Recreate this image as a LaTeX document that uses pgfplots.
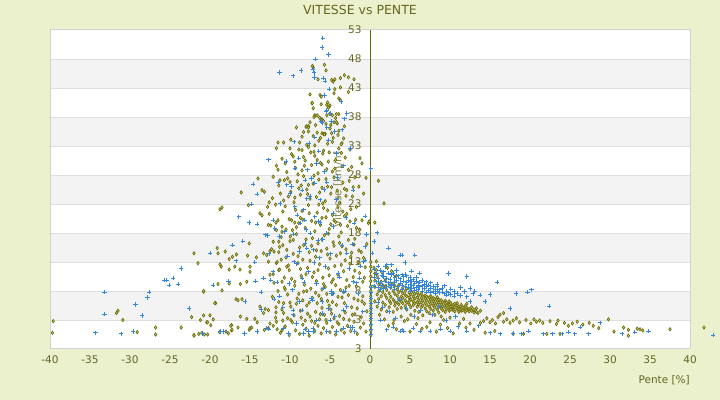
\documentclass[border=0pt]{standalone}
\usepackage{fontspec}
\setmainfont{DejaVu Sans}
\usepackage{pgfplots}
\pgfplotsset{compat=1.18}
\definecolor{bgc}{RGB}{235,240,205}
\definecolor{txt}{RGB}{102,102,34}
\definecolor{band}{RGB}{243,243,243}
\definecolor{gridc}{RGB}{222,222,222}
\definecolor{framec}{RGB}{210,210,210}
\definecolor{olv}{RGB}{102,102,0}
\definecolor{olvfill}{RGB}{205,205,120}
\definecolor{blu}{RGB}{50,135,220}
\pagecolor{bgc}
\begin{document}
\begin{tikzpicture}
\path (0,0) rectangle (720bp,400bp);
\node[txt, font=\fontsize{12.5bp}{14bp}\selectfont] at (360bp,390bp) {VITESSE vs PENTE};
\node[txt, anchor=east, inner sep=0pt, font=\fontsize{10.5bp}{12bp}\selectfont] at (690bp,20bp) {Pente [\%]};
\begin{axis}[
 set layers=standard,
 at={(50bp,51bp)}, anchor=south west,
 width=640bp, height=319bp, scale only axis,
 xmin=-40, xmax=40, ymin=-2, ymax=53,
 clip=false,
 axis line style={draw=none},
 major tick length=0pt,
 xtick={-40,-35,...,40},
 ytick={-2,3,...,53},
 yticklabels={3,3,8,13,18,23,28,33,38,43,48,53},
 ticklabel style={font=\fontsize{10.5bp}{12bp}\selectfont, text=txt},
 /pgf/number format/assume math mode=true,
 xticklabel style={yshift=-3bp},
 yticklabel style={xshift=315bp},
]
\begin{pgfonlayer}{axis background}
\fill[white] (axis cs:-40,-2) rectangle (axis cs:40,53);
\fill[band] (axis cs:-40,43) rectangle (axis cs:40,48);
\fill[band] (axis cs:-40,33) rectangle (axis cs:40,38);
\fill[band] (axis cs:-40,23) rectangle (axis cs:40,28);
\fill[band] (axis cs:-40,13) rectangle (axis cs:40,18);
\fill[band] (axis cs:-40,3) rectangle (axis cs:40,8);
\draw[gridc] (axis cs:-40,3) -- (axis cs:40,3);
\draw[gridc] (axis cs:-40,8) -- (axis cs:40,8);
\draw[gridc] (axis cs:-40,13) -- (axis cs:40,13);
\draw[gridc] (axis cs:-40,18) -- (axis cs:40,18);
\draw[gridc] (axis cs:-40,23) -- (axis cs:40,23);
\draw[gridc] (axis cs:-40,28) -- (axis cs:40,28);
\draw[gridc] (axis cs:-40,33) -- (axis cs:40,33);
\draw[gridc] (axis cs:-40,38) -- (axis cs:40,38);
\draw[gridc] (axis cs:-40,43) -- (axis cs:40,43);
\draw[gridc] (axis cs:-40,48) -- (axis cs:40,48);
\draw[framec, line width=1bp] (axis cs:-40,-2) rectangle (axis cs:40,53);
\end{pgfonlayer}
\begin{pgfonlayer}{pre main}
\draw[olv, line width=1bp] (axis cs:0,-2) -- (axis cs:0,53);
\node[rotate=90, text=txt!80, font=\fontsize{10.5bp}{12bp}\selectfont] at (axis cs:-4,25.5) {Vitesse [km/h]};
\end{pgfonlayer}
% olive series
\addplot[only marks, mark=diamond*, mark size=1.7bp, mark options={draw=olv, fill=olvfill, line width=0.6bp}] coordinates {
(-39.6,2.8)(-39.7,0.8)(-31.7,4.2)(-31.5,4.6)(-30.9,3.0)(-29.1,0.9)(-26.8,1.7)(-26.8,0.5)(-23.6,1.7)(-22.0,0.4)(-21.4,0.6)(-21.0,0.8)(-20.8,7.9)(-22.3,3.5)(-20.8,3.8)(-20.0,3.8)(-21.2,3.0)(-20.4,2.6)(-20.3,0.5)(-19.9,2.1)(-19.6,3.1)(-19.3,5.9)(-19.0,9.2)(-18.5,8.1)(-18.8,0.9)(-17.6,9.3)(-17.3,2.1)(-17.3,1.2)(-17.7,0.7)
(-19.1,15.4)(-19.0,14.5)(-22.0,14.5)(-21.5,12.8)(-18.1,14.8)(-17.2,13.9)(-16.7,14.3)(-17.6,13.5)(-18.75,12.6)(-18.6,12.2)(-17.6,11.7)(-16.9,12.2)(-16.25,11.7)(-15.1,16.2)(-15.3,14.1)(-14.2,13.8)(-15.0,12.2)(-15.0,11.3)(-15.4,9.6)(-16.2,9.2)(-20.8,8.0)(-19.4,5.9)(-20.3,2.6)(-22.0,0.3)(-20.7,0.5)(-18.0,1.0)(-17.4,2.0)(-17.25,1.3)(-16.5,1.7)(-15.1,1.3)(-15.0,1.6)(-14.8,1.7)(-14.4,3.2)(-16.75,6.6)(-16.5,6.4)(-16.0,6.6)(-16.2,3.6)(-15.4,3.2)(-13.75,5.3)(-13.1,4.9)(-12.7,4.7)(-13.3,4.2)(-14.1,2.6)(-13.2,1.3)(-12.7,1.6)(-12.5,2.4)(-12.1,2.0)(-11.7,2.7)
(-11.8,3.4)(-11.75,4.3)(-11.75,5.2)(-10.8,5.9)(-11.0,4.8)(-12.7,19.4)(-12.4,19.3)(-11.5,20.2)(-11.75,19.8)(-11.7,18.5)(-11.0,18.2)(-12.1,16.5)(-11.4,16.5)(-12.5,14.9)(-12.0,14.8)(-11.4,14.7)(-11.3,15.6)(-13.3,14.5)(-12.9,14.2)(-12.7,13.05)(-11.7,12.8)(-11.4,11.6)(-12.5,10.8)(-12.1,10.9)(-11.0,9.6)(-10.6,8.3)(-10.4,12.2)(-10.1,11.6)(-9.8,20.2)(-9.4,19.8)(-9.96,17.4)(-9.6,16.8)
(-18.75,22.1)(-18.5,22.4)(-16.1,25.0)(-14.0,27.4)(-15.2,22.8)(-13.5,25.4)(-13.2,25.1)(-12.6,23.3)(-13.75,21.4)(-13.5,21.05)(-11.7,29.6)(-11.5,28.9)(-11.7,32.6)(-11.5,33.6)(-10.8,33.6)(-12.8,22.5)(-12.1,27.7)(-11.25,27.1)(-10.7,27.1)(-10.0,26.8)(-10.2,24.3)(-9.6,31.2)(-9.4,30.3)(-8.5,32.3)(-8.0,36.3)(-7.7,36.4)(-7.25,40.4)(-7.1,39.5)(-6.9,38.2)(-6.6,38.3)(-6.0,35.2)(-5.8,35.1)(-5.6,35.1)(-5.4,40.1)(-5.1,39.8)(-5.0,38.6)(-4.7,38.3)(-4.2,38.5)(-4.1,36.9)(-3.3,34.3)(-3.5,33.5)(-2.5,32.4)(-1.25,30.9)(-1.0,30.0)(-2.3,29.4)(-2.9,25.4)(-2.1,25.9)(-2.2,24.3)(-1.7,22.5)(-1.0,20.2)(1.05,27.0)(-0.2,19.7)(1.75,23.1)(-0.5,27.5)(-0.8,24.8)(-0.1,20.0)(0.6,19.8)
(-7.2,46.8)(-7.1,46.5)(-5.7,47.0)(-5.5,46.05)(-6.5,44.5)(-4.8,44.4)(-4.6,44.1)(-4.4,44.5)(-3.7,44.7)(-3.2,45.2)(-2.7,44.85)(-2.0,44.5)(-3.7,43.1)(-2.7,42.3)(-4.4,42.8)(-7.5,41.9)(-6.25,41.8)(-6.1,41.5)(-4.5,42.1)(-3.9,41.2)(-3.7,40.9)(-7.2,40.4)(-6.1,40.2)(-5.3,40.5)(-5.0,40.0)(-5.2,39.6)(-6.9,38.3)(-7.0,38.0)(-6.3,37.9)(-6.0,37.6)(-5.8,37.3)(-5.4,38.3)(-5.0,38.5)(-4.5,37.1)(-4.2,37.1)(-3.9,38.5)(-7.9,36.4)(-7.7,36.2)(-4.9,36.6)
(-11.2,0.8)(-10.6,1.9)(-10.1,0.4)(-9.7,2.6)(-9.3,1.2)(-8.8,0.6)(-8.4,2.2)(-8.0,1.5)(-7.6,0.3)(-7.3,2.8)(-6.9,1.1)(-6.5,2.0)(-6.1,0.7)(-5.8,1.6)(-5.4,2.5)(-5.0,0.9)(-4.7,1.8)(-4.3,0.5)(-3.9,2.3)(-3.6,1.3)(-3.2,0.8)(-2.8,2.0)(-2.4,1.1)(-2.0,2.7)(-1.6,0.6)(-1.2,1.7)(-0.8,2.4)(-0.5,1.0)(-9.9,3.0)(-8.1,2.9)(-6.3,3.1)(-4.5,3.3)(-2.6,3.0)(-11.6,1.4)(-10.9,2.9)
(-11.4,6.1)(-10.8,4.2)(-10.3,7.4)(-9.9,5.3)(-9.5,3.8)(-9.1,6.7)(-8.7,4.6)(-8.3,7.9)(-7.9,5.5)(-7.5,3.6)(-7.2,6.8)(-6.8,4.4)(-6.4,7.2)(-6.0,5.1)(-5.7,3.9)(-5.3,6.3)(-4.9,4.8)(-4.6,7.6)(-4.2,5.6)(-3.8,3.7)(-3.5,6.9)(-3.1,4.3)(-2.7,7.3)(-2.3,5.2)(-1.9,4.0)(-1.5,6.4)(-1.1,3.5)(-0.7,5.8)(-0.4,4.5)(-12.2,7.0)(-10.0,6.0)(-8.9,7.5)(-6.6,5.9)(-5.1,5.5)(-3.3,7.8)(-2.0,6.7)(-0.9,7.1)
(-12.0,9.4)(-11.3,11.7)(-10.7,8.6)(-10.2,12.4)(-9.8,10.1)(-9.4,8.9)(-9.0,12.8)(-8.6,10.6)(-8.2,9.1)(-7.8,12.0)(-7.4,8.4)(-7.0,11.2)(-6.7,9.7)(-6.3,12.6)(-5.9,10.3)(-5.6,8.7)(-5.2,11.9)(-4.8,9.5)(-4.4,12.3)(-4.0,10.8)(-3.7,8.2)(-3.3,11.4)(-2.9,9.9)(-2.5,12.7)(-2.1,10.4)(-1.7,8.8)(-1.3,11.1)(-0.9,9.6)(-0.6,12.1)(-11.6,13.0)(-8.0,10.9)(-6.0,8.3)(-4.6,10.0)(-3.0,8.6)(-1.5,12.9)
(-12.3,15.2)(-11.1,17.3)(-10.5,13.8)(-10.0,16.6)(-9.6,14.4)(-9.2,17.8)(-8.8,15.5)(-8.4,13.4)(-8.0,16.9)(-7.6,14.7)(-7.2,17.1)(-6.8,13.9)(-6.5,16.2)(-6.1,14.9)(-5.7,17.6)(-5.4,15.3)(-5.0,13.6)(-4.6,16.4)(-4.2,14.1)(-3.9,17.4)(-3.5,15.7)(-3.1,13.3)(-2.7,16.8)(-2.3,14.6)(-1.9,17.0)(-1.4,15.0)(-0.8,13.7)(-10.9,15.9)(-7.3,15.8)(-5.2,17.9)(-3.7,14.5)(-2.0,16.0)
(-12.6,21.3)(-11.0,19.1)(-10.6,22.6)(-10.1,20.4)(-9.7,18.5)(-9.3,22.0)(-8.9,19.7)(-8.5,21.8)(-8.1,18.9)(-7.7,22.8)(-7.3,20.1)(-6.9,18.3)(-6.6,21.5)(-6.2,19.4)(-5.8,22.3)(-5.5,20.7)(-5.1,18.7)(-4.7,21.1)(-4.3,19.9)(-4.0,22.5)(-3.6,18.1)(-3.2,20.9)(-2.8,19.2)(-2.4,22.1)(-1.8,20.3)(-1.3,18.6)(-8.7,20.6)(-6.4,22.9)(-4.9,19.5)(-3.4,21.7)
(-12.2,24.0)(-11.4,26.2)(-10.8,23.6)(-10.3,27.4)(-9.9,25.1)(-9.5,23.3)(-9.1,26.9)(-8.7,24.6)(-8.3,27.8)(-7.9,25.5)(-7.5,23.9)(-7.1,26.5)(-6.7,24.2)(-6.4,27.2)(-6.0,25.8)(-5.6,23.5)(-5.3,26.0)(-4.9,24.8)(-4.5,27.6)(-4.1,25.3)(-3.8,23.2)(-3.4,26.7)(-3.0,24.4)(-2.6,27.0)(-7.7,26.3)(-5.9,23.1)(-8.9,25.7)
(-11.0,30.8)(-10.4,28.5)(-9.8,31.6)(-9.3,29.2)(-8.9,32.4)(-8.5,28.8)(-8.1,30.5)(-7.7,32.8)(-7.3,29.7)(-6.9,31.3)(-6.5,28.3)(-6.2,30.1)(-5.8,32.2)(-5.4,29.0)(-5.1,31.9)(-4.7,28.6)(-4.3,30.6)(-3.9,32.6)(-3.5,29.5)(-3.1,31.0)(-2.7,28.9)(-7.0,32.0)(-8.3,31.1)(-6.0,29.8)
(-9.9,34.1)(-9.2,36.2)(-8.8,33.6)(-8.3,35.4)(-7.9,33.2)(-7.5,37.1)(-7.1,34.7)(-6.8,36.6)(-6.4,33.9)(-6.1,37.5)(-5.7,35.0)(-5.3,33.4)(-5.0,36.0)(-4.6,34.4)(-4.3,37.8)(-3.9,35.6)(-3.6,33.3)(-3.2,36.4)(-6.6,35.3)(-4.8,35.2)
(-8.6,3.4)(-7.8,4.1)(-6.9,2.5)(-6.2,4.0)(-5.5,3.0)(-4.8,4.1)(-4.1,2.6)(-3.3,3.2)
(-9.2,5.8)(-8.4,6.4)(-7.6,6.0)(-6.8,7.7)(-6.1,6.6)(-5.4,7.5)(-4.7,6.1)(-4.0,7.0)(-3.2,5.9)
(-9.4,9.6)(-8.7,11.8)(-7.9,8.0)(-7.2,10.4)(-6.5,11.6)(-5.8,9.2)(-5.1,10.7)(-4.3,9.0)(-3.6,12.5)
(-9.0,14.0)(-8.3,15.9)(-7.5,13.2)(-6.7,15.0)(-6.0,16.9)(-5.3,14.3)(-4.5,15.8)(-3.8,16.3)(-3.0,15.2)
(-9.2,19.0)(-8.4,20.3)(-7.6,21.4)(-6.8,19.8)(-6.0,20.6)(-5.3,21.9)(-4.5,20.2)(-3.7,19.4)(-2.9,21.3)
(-9.4,24.1)(-8.6,26.2)(-7.8,24.7)(-7.0,27.9)(-6.3,25.0)(-5.5,27.3)(-4.8,25.9)(-4.0,24.0)(-3.2,25.6)
(-9.0,28.1)(-8.2,29.6)(-7.4,31.9)(-6.6,30.6)(-5.9,31.7)(-5.2,30.3)(-4.4,29.1)(-3.6,31.8)
(-8.5,34.6)(-7.7,35.5)(-6.9,33.1)(-6.2,34.4)(-5.5,36.8)(-4.7,33.7)(-4.0,34.9)
(-10.6,30.0)(-10.0,32.6)(-10.9,21.7)(-11.2,24.8)(-10.5,18.6)(-11.8,22.9)(-10.4,15.1)(-11.1,13.4)(-10.7,10.3)(-11.5,8.0)(-10.3,3.3)(-11.0,1.2)
(-2.2,3.9)(-1.6,5.0)(-1.0,6.2)(-2.6,8.9)(-1.9,11.5)(-0.7,10.3)(-2.4,13.9)(-1.1,14.7)(-1.7,18.9)(-2.5,20.0)(-0.4,16.1)(-1.4,26.0)(-1.9,27.6)
(0.1,0.4)(0.1,1.2)(0.1,2.0)(0.1,2.9)(0.1,3.7)(0.1,4.6)(0.1,5.4)(0.1,6.3)(0.1,7.1)(0.1,8.0)(0.1,8.8)(0.1,9.7)(0.1,10.5)(0.1,11.4)(0.1,12.2)(0.1,13.0)
(0.6,8.7)(0.6,6.2)(0.6,9.8)(0.9,7.4)(0.9,5.3)(0.9,10.6)(1.1,9.1)(1.1,8.0)(1.1,6.6)(1.4,8.5)(1.4,7.1)(1.4,9.6)(1.4,4.8)(1.6,7.8)(1.6,6.0)(1.6,9.0)
(1.9,8.8)(1.9,7.3)(1.9,5.6)(1.9,9.9)(2.1,8.2)(2.1,6.8)(2.1,4.5)(2.4,9.2)(2.4,7.6)(2.4,6.3)(2.4,5.2)(2.6,8.6)(2.6,7.0)(2.6,5.9)
(2.9,8.0)(2.9,6.5)(2.9,9.3)(2.9,4.4)(2.9,2.4)(3.1,7.5)(3.1,6.1)(3.1,8.9)(3.1,5.5)(3.4,8.3)(3.4,7.2)(3.4,6.0)(3.4,4.9)(3.6,7.8)(3.6,6.6)(3.6,9.0)(3.6,5.7)
(3.9,8.1)(3.9,7.0)(3.9,6.2)(3.9,5.1)(3.9,3.6)(4.1,7.6)(4.1,6.8)(4.1,5.9)(4.1,8.6)(4.4,8.0)(4.4,7.3)(4.4,6.4)(4.4,5.4)(4.6,7.1)(4.6,6.0)(4.6,8.4)(4.6,4.8)
(4.9,7.7)(4.9,6.9)(4.9,5.7)(4.9,6.3)(5.1,7.4)(5.1,6.5)(5.1,8.1)(5.1,5.2)(5.1,3.9)(5.4,7.0)(5.4,6.2)(5.4,5.6)(5.4,7.8)(5.6,7.5)(5.6,6.7)(5.6,5.9)(5.6,4.6)
(5.9,6.9)(5.9,6.1)(5.9,7.7)(5.9,5.3)(6.1,7.3)(6.1,6.4)(6.1,5.7)(6.1,4.4)(6.4,6.8)(6.4,6.0)(6.4,7.5)(6.4,5.2)(6.6,7.1)(6.6,6.3)(6.6,5.5)(6.6,3.8)
(6.9,6.7)(6.9,5.9)(6.9,7.2)(6.9,5.0)(7.1,6.4)(7.1,5.6)(7.1,7.0)(7.1,4.5)(7.1,1.8)(7.4,6.9)(7.4,6.1)(7.4,5.3)(7.4,4.2)(7.6,6.5)(7.6,5.8)(7.6,7.1)(7.6,4.9)
(7.9,6.2)(7.9,5.5)(7.9,6.8)(7.9,4.6)(8.1,6.6)(8.1,5.9)(8.1,5.2)(8.1,3.9)(8.4,6.3)(8.4,5.6)(8.4,6.9)(8.4,4.8)(8.6,6.0)(8.6,5.3)(8.6,6.5)(8.6,4.3)
(8.9,6.4)(8.9,5.7)(8.9,5.0)(8.9,3.6)(9.1,6.1)(9.1,5.4)(9.1,4.7)(9.4,5.8)(9.4,5.2)(9.4,6.3)(9.4,4.4)(9.6,6.0)(9.6,5.5)(9.6,4.9)(9.9,5.7)(9.9,5.1)(9.9,4.6)(9.9,6.2)
(10.1,5.9)(10.1,5.3)(10.1,4.8)(10.4,5.6)(10.4,5.0)(10.4,4.7)(10.6,5.8)(10.6,5.2)(10.6,4.5)(10.9,5.5)(10.9,4.9)(10.9,5.9)(11.1,5.3)(11.1,4.8)(11.1,4.4)(11.4,5.6)(11.4,5.0)(11.4,4.6)
(11.6,5.2)(11.6,4.7)(11.9,5.4)(11.9,4.9)(11.9,4.4)(12.1,5.1)(12.1,4.7)(12.1,5.8)(12.4,4.9)(12.4,4.5)(12.7,5.2)(12.7,4.6)(13.0,4.8)(13.0,4.3)(13.3,4.4)(13.3,5.0)(13.5,4.2)(13.8,4.6)(13.8,2.5)
(1.2,3.9)(1.8,3.1)(2.3,2.0)(3.3,1.4)(4.3,2.8)(5.0,1.0)(5.8,2.3)(6.5,1.5)(7.5,2.6)(8.3,1.0)(8.8,2.2)(9.7,1.6)(10.4,0.7)(11.2,2.4)(12.0,1.7)(12.5,2.4)(11.7,3.2)(10.0,3.4)(9.2,3.0)(6.0,3.3)(4.7,3.1)(3.0,3.0)
(1.5,11.2)(2.2,12.0)(0.8,13.1)(3.3,10.6)(2.7,11.4)(0.5,12.0)(0.6,11.0)(0.8,11.6)
(14.2,2.8)(14.6,3.3)(15.0,2.6)(15.3,3.0)(15.7,2.4)(16.0,3.5)(16.25,3.9)(16.7,4.2)(16.7,2.7)(17.1,3.1)(17.5,2.5)(17.9,2.9)(17.9,0.6)(18.3,3.3)(18.7,2.6)(19.2,0.6)(19.5,3.0)(20.1,2.4)(20.5,3.1)(20.8,2.7)(21.2,2.9)(21.6,2.5)(22.1,0.6)(22.5,2.8)(23.3,2.3)(23.5,2.9)(23.75,0.6)(24.3,2.5)(24.8,2.0)(25.3,2.4)(25.9,2.7)(26.6,2.2)(27.4,2.5)(27.9,2.0)(28.6,1.6)(29.8,3.1)(30.5,1.0)(31.7,1.7)(32.3,1.3)(32.3,0.3)(33.4,1.5)(33.75,1.4)(34.1,1.2)(37.5,1.4)(41.75,1.7)(15.6,1.1)(13.0,1.3)(14.4,0.8)
};
% blue series
\addplot[only marks, mark=+, mark size=2.2bp, mark options={draw=blu, line width=0.9bp}] coordinates {
(-33.2,7.8)(-33.2,4.0)(-34.3,0.8)(-31.1,0.6)(-29.6,1.05)(-29.3,5.7)(-28.5,3.8)(-27.8,6.9)(-27.6,7.8)(-25.75,9.85)(-25.4,9.85)(-25.1,9.0)(-24.6,10.2)(-24.0,9.2)(-22.6,5.0)(-21.0,0.7)(-19.6,9.0)(-18.3,1.05)(-17.7,9.7)(-15.6,6.2)(-15.7,0.7)(-14.3,9.7)(-14.1,1.05)(-13.6,7.8)(-13.6,4.8)(-13.3,10.2)(-12.7,1.4)(-12.0,6.6)(-11.3,7.1)(-10.9,5.2)(-10.2,0.7)(-9.7,8.2)(-9.6,3.9)(-8.8,6.2)(-8.3,0.7)(-7.7,1.0)(-7.1,1.0)(-6.7,3.0)(-5.9,4.1)(-4.8,7.6)(-4.2,1.0)(-3.3,7.95)(-2.5,1.7)(-1.9,1.0)(-2.9,5.3)
(-15.1,19.8)(-14.1,19.5)(-20.0,14.5)(-23.6,11.9)(-13.1,17.7)(-12.8,17.6)(-11.9,18.8)(-11.3,17.4)(-10.7,18.2)(-9.6,17.8)(-14.4,12.95)(-16.75,13.2)(-12.1,11.3)(-12.4,9.9)(-20.9,0.7)(-18.75,1.0)(-8.75,19.7)(-8.2,20.2)(-7.5,17.95)(-8.1,16.2)(-7.9,15.4)(-7.1,15.1)(-6.5,16.8)(-5.9,16.9)(-5.4,17.95)(-4.6,19.1)(-3.5,15.9)(-2.9,14.5)(-2.2,16.1)(-2.0,19.7)(-0.4,17.7)(0.25,14.5)(-0.8,13.05)(-9.5,13.05)(-9.2,12.7)(-8.5,10.2)(-7.7,11.3)(-8.25,9.5)(-6.7,9.3)(-5.8,8.5)(-4.8,7.9)(-4.7,7.6)(-3.3,7.9)(-3.1,8.0)(-2.1,9.6)(-1.7,9.4)(-1.3,10.2)(-7.3,6.7)(-7.2,6.4)(-9.6,4.7)(-8.5,4.7)(-9.2,2.4)(-8.1,1.4)(-7.1,1.6)(-5.0,3.0)(-3.3,1.6)(-2.2,1.7)(-5.4,1.0)(-10.8,1.6)(-12.9,1.6)(-3.3,4.7)
(-12.7,30.6)(-10.5,30.3)(-9.5,33.7)(-9.4,29.2)(-11.5,26.8)(-14.6,26.4)(-14.1,24.7)(-10.4,26.3)(-9.8,26.0)(-10.0,24.8)(-8.5,25.4)(-8.1,27.1)(-7.3,27.4)(-5.4,39.2)(-5.5,38.9)(-6.0,37.0)(-4.8,37.2)(-2.9,38.6)(-3.2,37.7)(-3.5,35.8)(-3.6,40.6)(-6.9,34.5)(-6.7,30.0)(-5.7,28.6)(-4.2,31.7)(-2.5,32.6)(-2.1,25.4)(-0.6,20.9)(0.1,29.1)(-5.4,26.8)(-6.9,26.6)(-7.5,24.3)(-7.9,23.9)(-6.25,23.7)(-5.75,25.5)(-4.2,23.7)(-4.6,21.4)(-8.3,22.0)(-9.4,22.5)(-11.25,23.1)(-12.1,20.2)(-6.9,20.8)(-6.5,20.0)(-6.25,19.8)
(-5.9,51.6)(-6.0,50.0)(-5.2,48.8)(-6.8,47.95)(-11.3,45.7)(-9.6,45.1)(-8.6,46.0)(-7.1,46.2)(-7.0,45.6)(-6.96,44.8)(-5.8,44.7)(-5.6,44.2)(-5.1,42.8)(-5.7,41.7)(-3.6,40.7)(-5.0,38.6)(-6.1,37.2)(-5.4,36.2)
(-8.9,30.9)(-7.6,33.4)(-6.4,32.1)(-5.2,34.0)(-4.4,35.5)(-8.0,18.6)(-6.3,13.7)(-5.6,12.2)(-4.9,14.4)(-4.0,11.1)(-7.0,12.9)(-8.8,14.8)(-10.1,9.3)(-6.0,6.2)(-5.2,5.0)(-4.4,3.6)(-3.8,10.4)(-2.6,11.9)(-1.5,7.6)(-0.9,4.4)(-1.2,12.3)(-3.0,20.6)(-4.1,27.6)(-3.3,29.6)(-7.8,28.9)(-9.1,21.1)(-10.3,14.0)(-11.6,9.5)(-12.6,14.4)(-15.9,16.6)(-16.4,20.8)(-17.2,15.9)(-14.8,23.0)
(-0.5,17.8)(0.9,18.05)(0.5,16.5)(-0.6,15.6)(-0.6,13.3)(1.25,11.6)(1.9,12.2)(2.1,12.5)(2.7,12.5)(1.7,10.5)(0.8,9.6)(3.75,14.2)(4.4,12.9)(2.9,11.0)(2.3,15.4)
(0.15,0.5)(0.15,1.4)(0.15,2.3)(0.15,3.2)(0.15,4.1)(0.15,5.0)(0.15,5.9)(0.15,6.8)(0.15,7.7)(0.15,8.6)
(0.5,10.4)(0.5,8.9)(0.5,11.8)(0.8,11.0)(1.0,10.1)(1.0,8.6)(1.0,12.3)(1.25,8.2)(1.25,9.4)(1.5,10.7)(1.5,9.0)(1.7,8.4)(1.7,11.3)(1.9,9.7)(2.1,10.2)(2.1,8.8)(2.3,9.4)(2.3,11.1)(2.5,10.0)(2.5,8.6)(2.7,9.2)(2.7,10.8)(2.9,8.9)(3.1,10.3)(3.1,9.5)(3.1,8.3)(3.3,9.8)(3.3,11.5)(3.5,10.6)(3.5,8.7)(3.75,9.3)(3.75,10.1)
(4.0,14.2)(4.0,9.0)(4.0,10.8)(4.0,8.2)(4.2,10.5)(4.2,9.7)(4.4,8.8)(4.4,10.9)(4.6,9.4)(4.6,10.6)(4.8,8.6)(4.8,9.9)(5.0,10.3)(5.0,9.1)(5.0,8.0)(5.2,9.6)(5.2,8.4)(5.2,11.4)(5.4,10.0)(5.4,8.9)(5.6,14.2)(5.6,9.3)(5.6,8.1)(5.8,9.7)(5.8,8.6)(5.8,10.4)
(6.0,9.0)(6.0,8.2)(6.2,9.5)(6.2,8.7)(6.2,11.1)(6.5,8.9)(6.5,8.0)(6.5,9.8)(6.8,9.2)(6.8,8.4)(7.0,8.7)(7.0,9.6)(7.0,7.8)(7.3,9.0)(7.3,8.1)(7.6,8.5)(7.6,7.7)(7.6,9.4)(7.9,8.8)(7.9,8.0)(8.2,8.3)(8.2,7.6)(8.4,8.7)(8.4,7.9)(8.4,9.1)(8.7,8.2)(8.7,7.7)(9.0,8.5)(9.0,7.8)(9.3,7.5)(9.3,8.9)(9.6,8.0)(9.6,7.3)(9.8,11.0)(9.8,7.7)
(10.1,7.4)(10.1,8.3)(10.5,7.1)(10.5,7.9)(10.9,7.6)(11.3,7.2)(11.3,8.6)(11.8,7.9)(12.1,10.5)(12.1,7.0)(12.5,6.2)(12.5,8.4)(12.9,7.5)(13.1,7.9)(13.75,7.3)(14.4,6.2)(15.0,7.4)(15.9,9.5)(17.5,5.0)(18.25,7.6)(19.7,7.8)(20.2,8.2)(22.4,5.4)
(1.0,6.0)(1.6,5.2)(2.4,4.4)(3.2,3.3)(4.5,5.0)(5.5,3.6)(6.3,4.6)(7.8,3.9)(9.5,2.9)(10.7,3.6)(8.6,5.3)(3.7,6.5)(1.3,3.0)
(2.1,1.3)(2.9,1.8)(3.75,1.1)(4.0,1.3)(4.2,1.1)(5.4,1.6)(6.25,1.1)(7.5,1.1)(8.8,1.4)(10.0,1.1)(11.0,1.9)(12.1,1.1)(13.6,2.0)(15.0,0.8)(16.25,0.6)(17.9,0.7)(18.96,0.6)(19.8,1.1)(21.7,0.6)(22.8,0.6)(24.0,0.6)(24.8,0.9)(25.6,0.6)(26.25,1.8)(27.3,0.6)(28.75,2.5)(31.5,0.6)(33.1,0.9)(34.8,1.1)(42.9,0.4)
};
\end{axis}
\pgfresetboundingbox
\useasboundingbox (0,0) rectangle (720bp,400bp);
\end{tikzpicture}
\end{document}
